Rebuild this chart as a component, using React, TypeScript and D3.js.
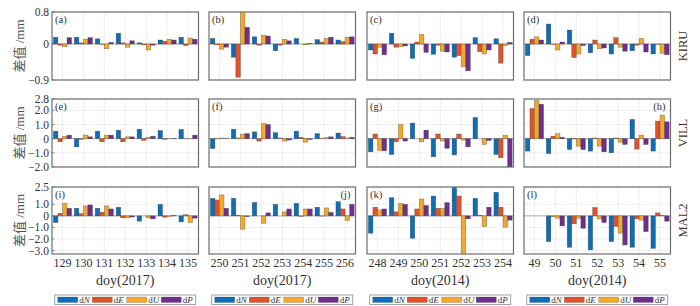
import React from "react";
import * as d3 from "d3";

// ---------- data ----------
const series = ["dN", "dE", "dU", "dP"];
const seriesColors = ["#0f6db5", "#e0522a", "#f2a92c", "#6f2f8e"];

const days2017a = ["129", "130", "131", "132", "133", "134", "135"];
const days2017b = ["250", "251", "252", "253", "254", "255", "256"];
const days2014a = ["248", "249", "250", "251", "252", "253", "254"];
const days2014b = ["49", "50", "51", "52", "53", "54", "55"];
const colDays = [days2017a, days2017b, days2014a, days2014b];
const colTitles = ["doy(2017)", "doy(2017)", "doy(2014)", "doy(2014)"];

const stations = ["KIRU", "VILL", "MAL2"];
const rowDomains: [number, number][] = [[-0.9, 0.8], [-2.0, 2.8], [-3.3, 2.5]];
const rowTicks = [[0.8, 0, -0.9], [2.8, 2.0, 1.0, 0, -1.0, -2.0], [2.5, 1.0, 0, -1.0, -2.0, -3.0]];
const rowTickLabels = [["0.8", "0", "−0.9"], ["2.8", "2.0", "1.0", "0", "−1.0", "−2.0"], ["2.5", "1.0", "0", "−1.0", "−2.0", "−3.0"]];

// KIRU
const panelA = {
  dN: [0.17, 0.17, 0.13, 0.27, 0.03, 0.1, 0.17],
  dE: [-0.03, 0.03, -0.01, 0.03, -0.02, 0.07, -0.04],
  dU: [-0.07, 0.12, -0.12, -0.08, -0.15, 0.12, 0.15],
  dP: [0.16, 0.16, 0.04, 0.08, -0.03, 0.1, 0.12],
};
const panelB = {
  dN: [0.14, -0.33, 0.18, -0.17, 0.14, 0.11, 0.1],
  dE: [-0.02, -0.83, -0.03, -0.03, 0.0, 0.05, 0.06],
  dU: [-0.13, 0.85, 0.22, 0.12, -0.02, 0.14, 0.17],
  dP: [-0.08, 0.42, 0.2, 0.08, 0.01, 0.17, 0.18],
};
const panelC = {
  dN: [-0.15, 0.27, -0.36, -0.26, -0.33, 0.16, 0.13],
  dE: [-0.25, -0.08, 0.05, -0.03, -0.29, -0.19, -0.48],
  dU: [-0.08, -0.07, 0.24, -0.18, -0.57, -0.25, -0.04],
  dP: [-0.27, -0.05, -0.21, -0.2, -0.67, -0.15, 0.04],
};
const panelD = {
  dN: [-0.29, 0.5, 0.35, -0.22, -0.25, -0.17, -0.25],
  dE: [0.12, -0.01, -0.34, 0.1, 0.16, -0.03, -0.01],
  dU: [0.18, -0.15, -0.25, -0.12, -0.08, 0.14, -0.23],
  dP: [0.1, 0.05, -0.04, -0.1, -0.18, -0.2, -0.27],
};
// VILL
const panelE = {
  dN: [0.53, -0.58, 0.53, 0.6, 0.67, 0.58, 0.65],
  dE: [-0.22, -0.05, -0.22, -0.22, -0.12, -0.05, 0.02],
  dU: [0.17, 0.25, 0.25, 0.13, 0.1, 0.02, 0.02],
  dP: [0.25, 0.13, 0.25, 0.13, 0.17, 0.03, 0.25],
};
const panelF = {
  dN: [-0.7, 0.67, 0.48, 0.43, 0.53, 0.36, 0.4],
  dE: [0.03, 0.05, -0.17, 0.05, 0.1, 0.03, 0.15],
  dU: [0.05, 0.32, 1.07, -0.17, -0.25, 0.07, 0.05],
  dP: [0.02, 0.36, 1.0, -0.1, -0.05, 0.13, 0.1],
};
const panelG = {
  dN: [-0.93, -1.12, 1.1, -1.28, -1.15, 1.5, -1.12],
  dE: [0.33, -0.22, 0.0, 0.33, 0.33, 0.0, -1.35],
  dU: [-0.82, 1.0, -0.22, -0.17, -0.1, -0.41, 0.25],
  dP: [-0.86, -0.17, 0.6, -0.68, -0.58, -0.13, -2.0],
};
const panelH = {
  dN: [-0.88, -1.05, -0.77, -0.88, -1.0, 1.36, -0.88],
  dE: [2.13, 0.18, -0.02, 0.05, 0.05, -0.74, 1.24],
  dU: [2.7, 0.35, -0.53, -0.53, -0.25, 0.25, 1.66],
  dP: [2.43, 0.1, -0.77, -0.93, -0.41, -0.41, 1.19],
};
// MAL2
const panelI = {
  dN: [-0.58, 0.66, 0.66, 0.75, -0.46, 1.0, -0.52],
  dE: [0.22, 0.2, 0.32, -0.17, 0.0, -0.12, 0.1],
  dU: [1.09, 0.86, 0.86, -0.17, -0.17, -0.05, -0.58],
  dP: [0.66, 0.95, 0.6, -0.1, -0.26, 0.03, -0.2],
};
const panelJ = {
  dN: [1.52, 1.52, 1.17, 1.0, 1.09, 0.75, 1.23],
  dE: [1.38, 0.05, 0.0, 0.0, -0.05, -0.02, 0.6],
  dU: [1.82, -1.16, -0.64, 0.35, 0.6, 0.69, -0.4],
  dP: [0.66, -0.06, 0.26, 0.6, 0.6, 0.3, 1.0],
};
const panelK = {
  dN: [-1.5, 1.58, -1.94, 1.72, 2.6, 1.52, 2.04],
  dE: [0.75, 0.35, 0.6, 0.66, 1.72, 0.05, 0.75],
  dU: [0.52, 1.09, 1.46, 0.63, -3.4, -0.92, -0.98],
  dP: [0.6, 1.0, 0.9, 1.15, -0.26, 0.75, -0.37],
};
const panelL = {
  dN: [0, -2.23, -2.72, -2.95, -2.23, -2.72, -2.81],
  dE: [0, -0.05, -0.69, 0.72, -0.92, -0.26, 0.26],
  dU: [0, -0.2, -0.2, -0.26, -1.5, -0.37, 0.05],
  dP: [0, -0.87, -1.07, -0.58, -2.52, -1.36, -0.46],
};

const panels = [
  [panelA, panelB, panelC, panelD],
  [panelE, panelF, panelG, panelH],
  [panelI, panelJ, panelK, panelL],
];
const panelLetters = [["(a)", "(b)", "(c)", "(d)"], ["(e)", "(f)", "(g)", "(h)"], ["(i)", "(j)", "(k)", "(l)"]];
const letterRight = [[false, false, false, false], [false, false, false, true], [false, true, false, false]];

// ---------- layout ----------
const W = 700;
const H = 306;
const colX = [52, 209, 367, 524];
const panelW = 146.5;
const rowY = [12, 99, 187];
const rowH = [68, 68, 67];
const serif = "'Liberation Serif', 'Times New Roman', serif";
const cjk = "'Liberation Serif', 'Noto Sans CJK SC', serif";

function Panel({ r, c }: { r: number; c: number }) {
  const data: any = panels[r][c];
  const days = colDays[c];
  const x0 = d3.scaleBand<string>().domain(days).range([colX[c], colX[c] + panelW]).paddingInner(0).paddingOuter(0);
  const x1 = d3.scaleBand<string>().domain(series).range([0, x0.bandwidth()]).paddingInner(0).paddingOuter(0.3);
  const y = d3.scaleLinear().domain(rowDomains[r]).range([rowY[r] + rowH[r], rowY[r]]);
  const clipId = `clip-${r}-${c}`;
  const top = rowY[r];
  const bottom = rowY[r] + rowH[r];
  const left = colX[c];
  const right = colX[c] + panelW;
  return (
    <g>
      <defs>
        <clipPath id={clipId}>
          <rect x={left} y={top} width={panelW} height={rowH[r]} />
        </clipPath>
      </defs>
      <rect x={left} y={top} width={panelW} height={rowH[r]} fill="#fff" />
      {/* grid */}
      {days.map((d) => (
        <line key={"vg" + d} x1={x0(d)! + x0.bandwidth() / 2} x2={x0(d)! + x0.bandwidth() / 2} y1={top} y2={bottom} stroke="#e6e6e6" strokeWidth={0.7} />
      ))}
      {rowTicks[r].map((t) => (
        <line key={"hg" + t} x1={left} x2={right} y1={y(t)} y2={y(t)} stroke="#e6e6e6" strokeWidth={0.7} />
      ))}
      <line x1={left} x2={right} y1={y(0)} y2={y(0)} stroke="#999" strokeWidth={0.8} />
      {/* bars */}
      <g clipPath={`url(#${clipId})`}>
        {series.map((s, si) =>
          (data[s] as number[]).map((v, i) => {
            const bx = x0(days[i])! + x1(s)!;
            const y0 = y(0);
            const yv = y(v);
            return (
              <rect
                key={s + i}
                x={bx}
                y={Math.min(y0, yv)}
                width={x1.bandwidth()}
                height={Math.abs(yv - y0)}
                fill={seriesColors[si]}
                stroke="#3a3a3a"
                strokeOpacity={0.6}
                strokeWidth={0.5}
              />
            );
          })
        )}
      </g>
      <rect x={left} y={top} width={panelW} height={rowH[r]} fill="none" stroke="#6e6e6e" strokeWidth={1.2} />
      {/* y ticks (left column) */}
      {c === 0 &&
        rowTicks[r].map((t, ti) => (
          <g key={"yt" + t}>
            <line x1={left} x2={left + 2.5} y1={y(t)} y2={y(t)} stroke="#6e6e6e" strokeWidth={0.8} />
            <text x={left - 3} y={y(t)} dy="0.35em" textAnchor="end" fontFamily={serif} fontSize={11.5} fill="#333">
              {rowTickLabels[r][ti]}
            </text>
          </g>
        ))}
      {/* x tick labels (bottom row) */}
      {r === 2 &&
        days.map((d) => (
          <text key={"xt" + d} x={x0(d)! + x0.bandwidth() / 2} y={bottom + 13} textAnchor="middle" fontFamily={serif} fontSize={12} fill="#333">
            {d}
          </text>
        ))}
      <text
        x={letterRight[r][c] ? right - 5 : left + 3}
        y={top + 11}
        textAnchor={letterRight[r][c] ? "end" : "start"}
        fontFamily={serif}
        fontSize={10.5}
        fill="#333"
      >
        {panelLetters[r][c]}
      </text>
    </g>
  );
}

function Legend({ c }: { c: number }) {
  const cx = colX[c] + panelW / 2;
  const bw = 141;
  const bx = cx - bw / 2;
  const by = 295;
  const step = 34.5;
  return (
    <g>
      <rect x={bx} y={by} width={bw} height={9.5} fill="#fff" stroke="#8a8a8a" strokeWidth={0.8} />
      {series.map((s, i) => (
        <g key={s}>
          <rect x={bx + 3 + i * step} y={by + 2} width={20} height={5.5} fill={seriesColors[i]} stroke="#3a3a3a" strokeOpacity={0.5} strokeWidth={0.4} />
          <text x={bx + 24.5 + i * step} y={by + 8} fontFamily={serif} fontSize={9} fill="#333">
            d<tspan fontStyle="italic">{s.slice(1)}</tspan>
          </text>
        </g>
      ))}
    </g>
  );
}

export default function App() {
  return (
    <svg width={W} height={H} style={{ position: "absolute", left: 0, top: 0, background: "#fff" }}>
      <rect x={0} y={0} width={W} height={H} fill="#fff" />
      {panels.map((row, r) => row.map((_, c) => <Panel key={r + "-" + c} r={r} c={c} />))}
      {stations.map((s, r) => {
        const cy = rowY[r] + rowH[r] / 2;
        return (
          <g key={s}>
            <text transform={`translate(687,${cy}) rotate(-90)`} textAnchor="middle" fontFamily={serif} fontSize={12.5} fill="#333">
              {s}
            </text>
            <text transform={`translate(24,${cy}) rotate(-90)`} textAnchor="middle" fontFamily={cjk} fontSize={13} fill="#555">
              差值 /mm
            </text>
          </g>
        );
      })}
      {colTitles.map((t, c) => (
        <text key={c} x={colX[c] + panelW / 2} y={285} textAnchor="middle" fontFamily={serif} fontSize={14} fill="#333">
          {t}
        </text>
      ))}
      {colTitles.map((_, c) => (
        <Legend key={"lg" + c} c={c} />
      ))}
    </svg>
  );
}
